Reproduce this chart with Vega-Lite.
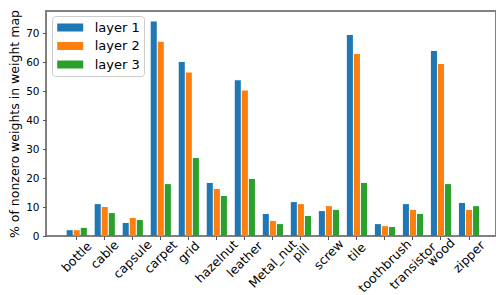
{
  "$schema": "https://vega.github.io/schema/vega-lite/v6.json",
  "autosize": "none",
  "padding": {"left": 46, "top": 11, "right": 0, "bottom": 59},
  "width": 450,
  "height": 225,
  "background": "white",
  "config": {
    "font": "DejaVu Sans",
    "view": {"stroke": "#808080", "strokeWidth": 2},
    "axis": {"grid": false, "domain": false, "tickColor": "#555555", "tickSize": 3.5, "tickWidth": 1, "labelColor": "#000000", "labelFont": "DejaVu Sans", "labelFontSize": 10.5, "titleFont": "DejaVu Sans", "titleFontSize": 12.5, "titleFontWeight": "normal", "titleColor": "#000000"}
  },
  "data": {
    "values": [
      {"category": "bottle", "layer": "layer 1", "value": 2.0},
      {"category": "bottle", "layer": "layer 2", "value": 2.0},
      {"category": "bottle", "layer": "layer 3", "value": 2.8},
      {"category": "cable", "layer": "layer 1", "value": 11.0},
      {"category": "cable", "layer": "layer 2", "value": 10.0},
      {"category": "cable", "layer": "layer 3", "value": 7.9},
      {"category": "capsule", "layer": "layer 1", "value": 4.5},
      {"category": "capsule", "layer": "layer 2", "value": 6.2},
      {"category": "capsule", "layer": "layer 3", "value": 5.5},
      {"category": "carpet", "layer": "layer 1", "value": 74.0},
      {"category": "carpet", "layer": "layer 2", "value": 67.0},
      {"category": "carpet", "layer": "layer 3", "value": 17.9},
      {"category": "grid", "layer": "layer 1", "value": 60.0},
      {"category": "grid", "layer": "layer 2", "value": 56.4},
      {"category": "grid", "layer": "layer 3", "value": 26.9},
      {"category": "hazelnut", "layer": "layer 1", "value": 18.3},
      {"category": "hazelnut", "layer": "layer 2", "value": 16.2},
      {"category": "hazelnut", "layer": "layer 3", "value": 13.8},
      {"category": "leather", "layer": "layer 1", "value": 53.7},
      {"category": "leather", "layer": "layer 2", "value": 50.2},
      {"category": "leather", "layer": "layer 3", "value": 19.7},
      {"category": "Metal_nut", "layer": "layer 1", "value": 7.6},
      {"category": "Metal_nut", "layer": "layer 2", "value": 5.2},
      {"category": "Metal_nut", "layer": "layer 3", "value": 4.1},
      {"category": "pill", "layer": "layer 1", "value": 11.7},
      {"category": "pill", "layer": "layer 2", "value": 11.0},
      {"category": "pill", "layer": "layer 3", "value": 6.9},
      {"category": "screw", "layer": "layer 1", "value": 8.6},
      {"category": "screw", "layer": "layer 2", "value": 10.3},
      {"category": "screw", "layer": "layer 3", "value": 9.0},
      {"category": "tile", "layer": "layer 1", "value": 69.3},
      {"category": "tile", "layer": "layer 2", "value": 62.8},
      {"category": "tile", "layer": "layer 3", "value": 18.3},
      {"category": "toothbrush", "layer": "layer 1", "value": 4.1},
      {"category": "toothbrush", "layer": "layer 2", "value": 3.4},
      {"category": "toothbrush", "layer": "layer 3", "value": 3.1},
      {"category": "transistor", "layer": "layer 1", "value": 11.0},
      {"category": "transistor", "layer": "layer 2", "value": 9.0},
      {"category": "transistor", "layer": "layer 3", "value": 7.6},
      {"category": "wood", "layer": "layer 1", "value": 63.8},
      {"category": "wood", "layer": "layer 2", "value": 59.3},
      {"category": "wood", "layer": "layer 3", "value": 17.9},
      {"category": "zipper", "layer": "layer 1", "value": 11.4},
      {"category": "zipper", "layer": "layer 2", "value": 9.0},
      {"category": "zipper", "layer": "layer 3", "value": 10.3}
    ]
  },
  "encoding": {
    "x": {
      "field": "category",
      "type": "nominal",
      "sort": null,
      "scale": {"paddingInner": 0.28, "paddingOuter": 0.67, "align": 0.55},
      "axis": {"title": null, "labels": false}
    },
    "y": {
      "field": "value",
      "type": "quantitative",
      "scale": {"domain": [0, 77.6], "nice": false},
      "axis": {
        "title": "% of nonzero weights in weight map",
        "values": [0, 10, 20, 30, 40, 50, 60, 70],
        "labelPadding": 3.5,
        "titlePadding": 4
      }
    }
  },
  "layer": [
    {
      "mark": {"type": "bar"},
      "encoding": {
        "xOffset": {
          "field": "layer",
          "type": "nominal",
          "scale": {"paddingInner": 0.143, "paddingOuter": 0}
        },
        "color": {
          "field": "layer",
          "type": "nominal",
          "scale": {"domain": ["layer 1", "layer 2", "layer 3"], "range": ["#1f77b4", "#ff7f0e", "#2ca02c"]},
          "legend": {
            "title": null,
            "orient": "none",
            "legendX": 6,
            "legendY": 5,
            "padding": 3.5,
            "fillColor": "white",
            "strokeColor": "#cccccc",
            "cornerRadius": 3,
            "symbolType": "M-1,-0.31L1,-0.31L1,0.31L-1,0.31Z",
            "symbolSize": 676,
            "symbolStrokeWidth": 0,
            "symbolOpacity": 1,
            "symbolOffset": 1.7,
            "clipHeight": 16,
            "rowPadding": 2.5,
            "labelOffset": 11.5,
            "labelFont": "DejaVu Sans",
            "labelFontSize": 13,
            "labelColor": "#000000"
          }
        }
      }
    },
    {
      "transform": [{"filter": "datum.layer === 'layer 1'"}],
      "mark": {
        "type": "text",
        "font": "DejaVu Sans",
        "fontSize": 12.5,
        "color": "#000000",
        "angle": -45,
        "align": "center",
        "baseline": "middle",
        "dx": {"expr": "-(5.2 + 1.62 * length(datum.category))"},
        "dy": {"expr": "5.2 + 1.62 * length(datum.category)"}
      },
      "encoding": {
        "y": {"datum": 0},
        "text": {"field": "category"}
      }
    }
  ]
}
